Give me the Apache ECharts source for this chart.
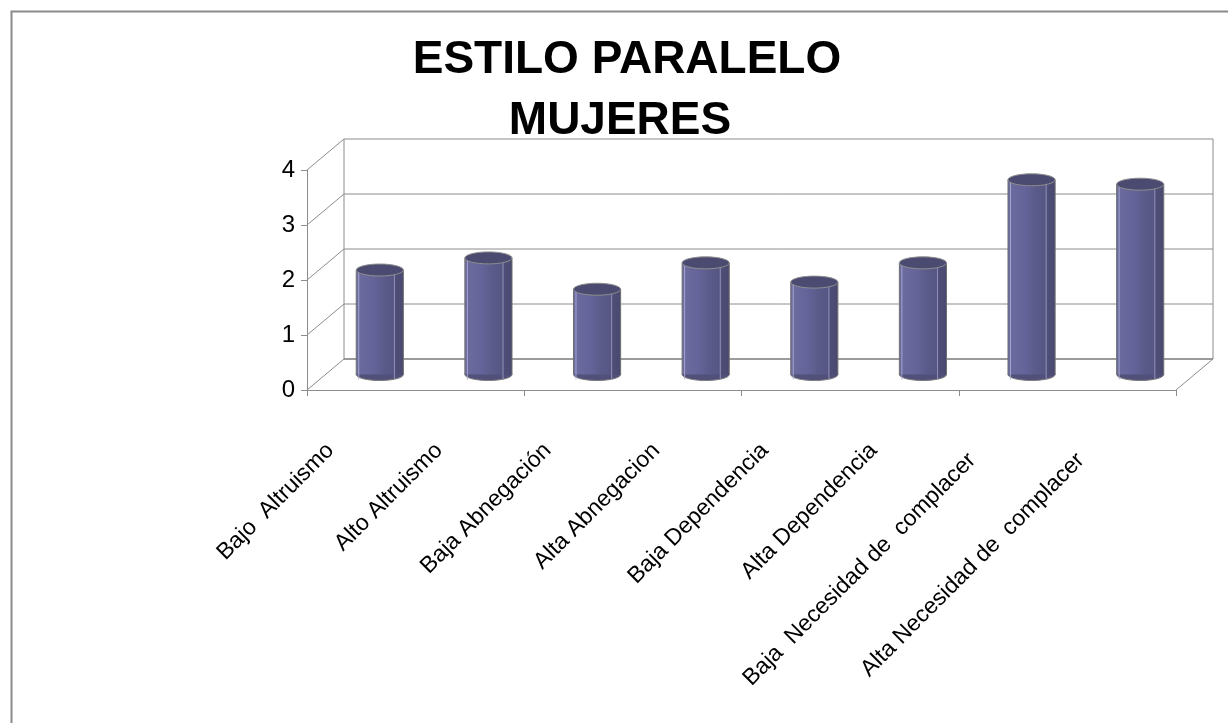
<!DOCTYPE html>
<html>
<head>
<meta charset="utf-8">
<script src="https://cdn.jsdelivr.net/npm/echarts@6/dist/echarts.min.js"></script>
<style>
  html, body { margin: 0; padding: 0; background: #ffffff; }
  #chart { width: 1228px; height: 723px; }
</style>
</head>
<body>
<div id="chart"></div>
<script>
const titleLine1 = 'ESTILO PARALELO';
const titleLine2 = 'MUJERES';
const categories = [
  'Bajo  Altruismo',
  'Alto Altruismo',
  'Baja Abnegación',
  'Alta Abnegacion',
  'Baja Dependencia',
  'Alta Dependencia',
  'Baja  Necesidad de  complacer',
  'Alta Necesidad de  complacer'
];
const values = [1.9, 2.12, 1.55, 2.03, 1.68, 2.03, 3.54, 3.46];
const yTicks = [0, 1, 2, 3, 4];

const DX = 37, DY = -31;           // depth offset of the back wall
const FONT = 'Liberation Sans, Arial, sans-serif';
const GRID = { left: 307, top: 170, width: 869, height: 220 };

function renderWalls(params, api) {
  const n = categories.length;
  const band = api.size([1, 0])[0];
  const x0 = api.coord([0, 0])[0] - band / 2;
  const x1 = api.coord([n - 1, 0])[0] + band / 2;
  const children = [];
  const line = (ax, ay, bx, by, w, c) => children.push({
    type: 'line', shape: { x1: ax, y1: ay, x2: bx, y2: by },
    style: { stroke: c || '#8c8c8c', lineWidth: w || 1 }
  });
  yTicks.forEach(t => {
    const y = api.coord([0, t])[1];
    line(x0 + DX, y + DY, x1 + DX, y + DY, t === 0 ? 1.6 : 1, t === 0 ? '#7a7a7a' : '#8c8c8c');
    line(x0, y, x0 + DX, y + DY);
  });
  const yTop = api.coord([0, yTicks[yTicks.length - 1]])[1];
  const yBot = api.coord([0, 0])[1];
  line(x0 + DX, yTop + DY, x0 + DX, yBot + DY);
  line(x1 + DX, yTop + DY, x1 + DX, yBot + DY);
  line(x1, yBot, x1 + DX, yBot + DY);
  return { type: 'group', children };
}

function renderBar(params, api) {
  const i = api.value(0), v = api.value(1);
  const base = api.coord([i, 0]);
  const top = api.coord([i, v]);
  const band = api.size([1, 0])[0];
  const cx = base[0] + DX / 2;
  const yb = base[1] + DY / 2;
  const yt = top[1] + DY / 2;
  const rx = band * 0.217;
  const ry = 6;
  const grad = new echarts.graphic.LinearGradient(0, 0, 1, 0, [
    { offset: 0, color: '#6c6ca0' },
    { offset: 0.35, color: '#64649a' },
    { offset: 0.55, color: '#5c5c8c' },
    { offset: 0.80, color: '#565684' },
    { offset: 0.81, color: '#4e4e78' },
    { offset: 1, color: '#494970' }
  ]);
  const children = [
    { type: 'ellipse', shape: { cx: cx, cy: yb, rx: rx, ry: ry },
      style: { fill: '#50507a', stroke: '#7c7c7c', lineWidth: 1 } },
    { type: 'rect', shape: { x: cx - rx, y: yt, width: rx * 2, height: yb - yt },
      style: { fill: grad } },
    { type: 'line', shape: { x1: cx - rx, y1: yt, x2: cx - rx, y2: yb },
      style: { stroke: '#707070', lineWidth: 1 } },
    { type: 'line', shape: { x1: cx + rx, y1: yt, x2: cx + rx, y2: yb },
      style: { stroke: '#707070', lineWidth: 1 } },
    { type: 'line', shape: { x1: cx - rx + 2.5, y1: yt, x2: cx - rx + 2.5, y2: yb + ry - 1 },
      style: { stroke: 'rgba(175,175,215,0.85)', lineWidth: 1 } },
    { type: 'line', shape: { x1: cx + rx * 0.62, y1: yt, x2: cx + rx * 0.62, y2: yb + ry - 1 },
      style: { stroke: 'rgba(160,160,200,0.8)', lineWidth: 1 } },
    { type: 'ellipse', shape: { cx: cx, cy: yt, rx: rx, ry: ry },
      style: { fill: '#4b4b72', stroke: '#8e8e8e', lineWidth: 1 } }
  ];
  return { type: 'group', children };
}

const labelData = categories.map((c, i) => {
  if (i >= 6) return { value: c, textStyle: { padding: [0, 14, 0, 0] } };
  return c;
});

const chart = echarts.init(document.getElementById('chart'), null, { renderer: 'canvas' });
chart.setOption({
  backgroundColor: '#ffffff',
  animation: false,
  title: [
    { text: titleLine1, left: 627, top: 37, textAlign: 'center', padding: 0,
      textStyle: { fontFamily: FONT, fontSize: 46, fontWeight: 'bold', color: '#000' } },
    { text: titleLine2, left: 620, top: 98, textAlign: 'center', padding: 0,
      textStyle: { fontFamily: FONT, fontSize: 46, fontWeight: 'bold', color: '#000' } }
  ],
  graphic: [
    { type: 'rect', left: 9, top: 9, z: -10, silent: true,
      shape: { width: 1400, height: 1000 },
      style: { fill: 'none', stroke: '#8a8a8a', lineWidth: 2 } }
  ],
  grid: [
    { left: GRID.left, top: GRID.top, width: GRID.width, height: GRID.height },
    { left: GRID.left - 31, top: GRID.top, width: GRID.width, height: GRID.height }
  ],
  xAxis: [
    {
      type: 'category', gridIndex: 0, data: categories, boundaryGap: true,
      axisLine: { show: true, lineStyle: { color: '#8c8c8c', width: 1 } },
      axisTick: { show: true, length: 6, lineStyle: { color: '#8c8c8c' } },
      axisLabel: { show: false },
      splitLine: { show: false }
    },
    {
      type: 'category', gridIndex: 1, data: labelData, boundaryGap: true,
      axisLine: { show: false }, axisTick: { show: false },
      axisLabel: { show: true, interval: 0, rotate: 45, margin: 57,
        fontFamily: FONT, fontSize: 23, color: '#000' },
      splitLine: { show: false }
    }
  ],
  yAxis: [
    {
      type: 'value', gridIndex: 0, min: 0, max: 4, interval: 1,
      axisLine: { show: true, lineStyle: { color: '#8c8c8c', width: 1 } },
      axisTick: { show: true, length: 6, lineStyle: { color: '#8c8c8c' } },
      axisLabel: { fontFamily: FONT, fontSize: 24, color: '#000', margin: 12 },
      splitLine: { show: false }
    },
    { type: 'value', gridIndex: 1, min: 0, max: 4, interval: 1, show: false }
  ],
  series: [
    {
      type: 'custom', name: 'walls', xAxisIndex: 0, yAxisIndex: 0,
      data: [[0, 0]], renderItem: renderWalls, silent: true, z: 1, clip: false
    },
    {
      type: 'custom', name: 'Mujeres', xAxisIndex: 0, yAxisIndex: 0,
      data: values.map((v, i) => [i, v]), renderItem: renderBar, z: 3, clip: false,
      encode: { x: 0, y: 1 }
    }
  ]
});
</script>
</body>
</html>
